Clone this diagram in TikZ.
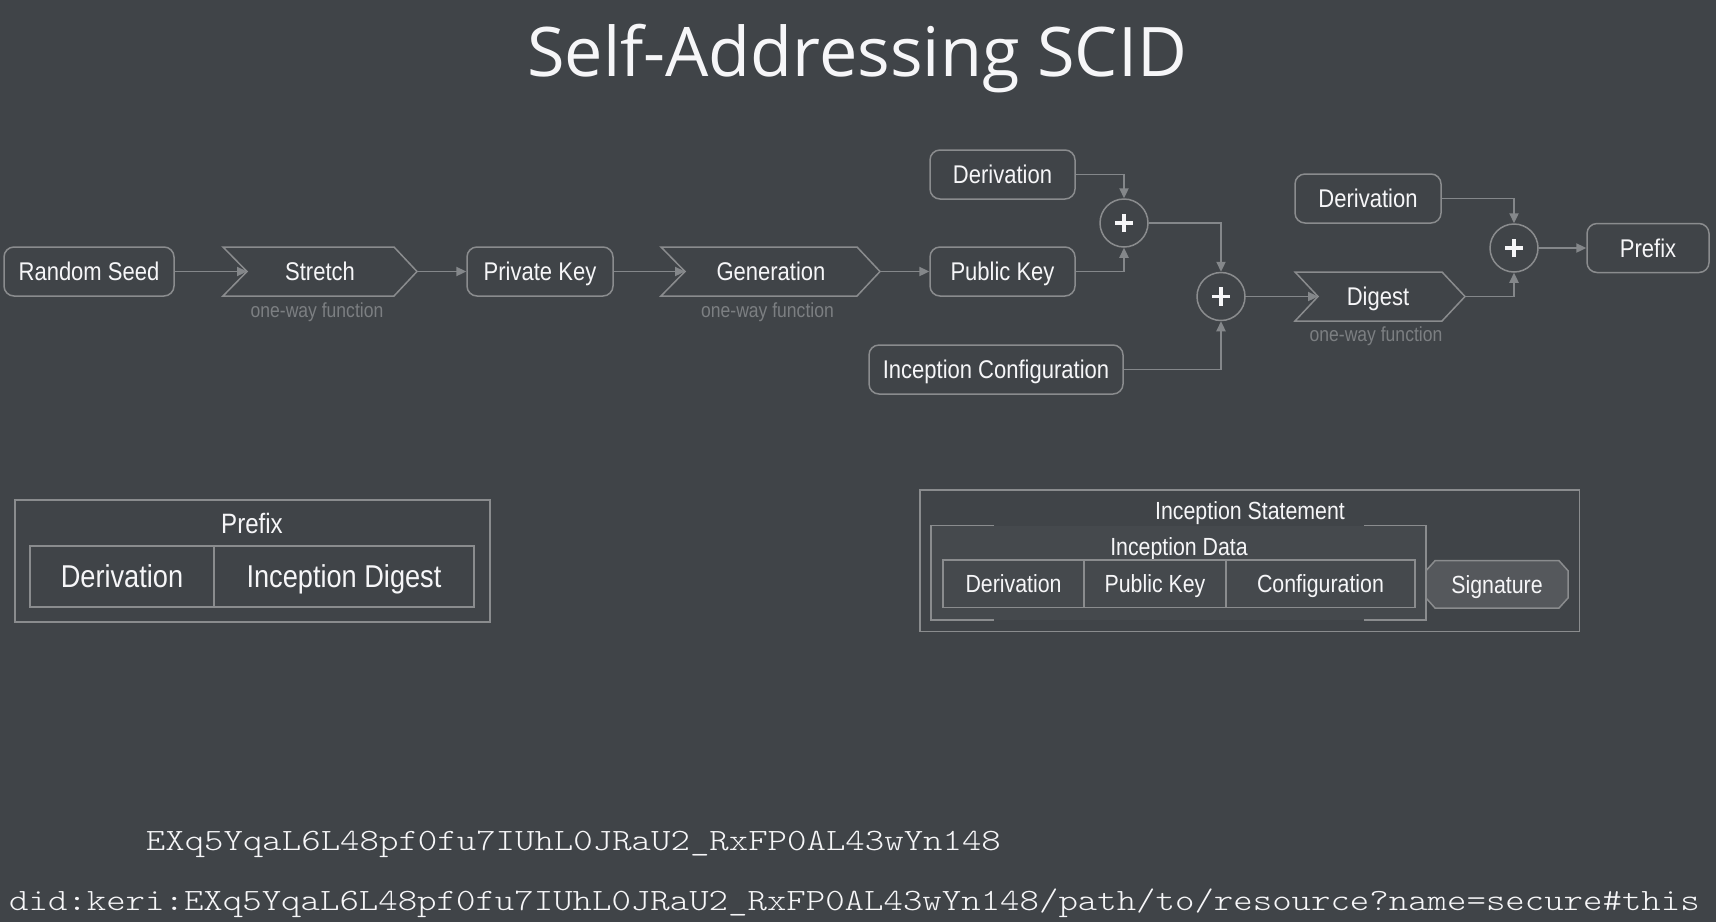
\documentclass[tikz,border=0pt]{standalone}
\usepackage{fontspec}
\usetikzlibrary{arrows.meta}
\newfontfamily\labfont[FakeStretch=0.86]{Liberation Sans}
\newfontfamily\titlefont{Open Sans}
\newfontfamily\codefont[FakeStretch=1.194]{Latin Modern Mono Light}
\definecolor{bg}{HTML}{404448}
\definecolor{linegray}{HTML}{8A8C8E}
\definecolor{arrgray}{HTML}{84878A}
\definecolor{txt}{HTML}{F6F6F8}
\definecolor{dimtxt}{HTML}{7C7F82}
\definecolor{sigfill}{HTML}{55585C}
\definecolor{innerfill}{HTML}{45494D}
\tikzset{
  box/.style={draw=linegray, line width=0.75pt, rounded corners=5pt, fill=bg, text=txt,
    font=\labfont\fontsize{12.8pt}{14pt}\selectfont, minimum height=24.5pt,
    inner sep=0pt, text height=9.2pt, text depth=0pt},
  lab/.style={text=txt, font=\labfont\fontsize{12.8pt}{14pt}\selectfont, inner sep=0pt,
    text height=9.2pt, text depth=0pt},
  fn/.style={text=dimtxt, font=\labfont\fontsize{10.2pt}{12pt}\selectfont, inner sep=0pt},
  chev/.style={draw=linegray, line width=0.75pt, fill=bg},
  plus/.style={circle, draw=linegray, line width=0.75pt, fill=bg, minimum size=24pt, inner sep=0pt,
    path picture={\draw[txt, line width=1.6pt]
      ([xshift=-4.6pt]path picture bounding box.center) -- ([xshift=4.6pt]path picture bounding box.center)
      ([yshift=-4.6pt]path picture bounding box.center) -- ([yshift=4.6pt]path picture bounding box.center);}},
  arr/.style={draw=arrgray, line width=0.75pt, -{Triangle[length=5pt,width=4.6pt]}},
  frame/.style={draw=linegray, line width=0.75pt},
  bigcell/.style={draw=linegray, line width=0.75pt, text=txt, font=\labfont\fontsize{15.8pt}{17pt}\selectfont,
    minimum height=30.5pt, inner sep=0pt, text height=11.3pt, text depth=0pt},
  smallcell/.style={draw=linegray, line width=0.75pt, text=txt, font=\labfont\fontsize{12.4pt}{14pt}\selectfont,
    minimum height=23.85pt, inner sep=0pt, text height=8.9pt, text depth=0pt},
  code/.style={text=txt, font=\codefont\fontsize{15.5pt}{18pt}\selectfont, inner sep=0pt, anchor=base west},
}
\begin{document}
\begin{tikzpicture}[x=0.5pt,y=-0.5pt]
\fill[bg] (0,0) rectangle (1716,922);
\useasboundingbox (0,0) rectangle (1716,922);

% title
\node[font=\titlefont\fontsize{34.2pt}{40pt}\selectfont, text=txt, anchor=base, inner sep=0pt] (title) at (857,76) {Self-Addressing SCID};

% top flow
\node[box, minimum width=85pt] (seed) at (89,271.5) {Random Seed};

\draw[chev] (223,247) -- (394,247) -- (417,271.5) -- (394,296) -- (223,296) -- (247,271.5) -- cycle;
\node[lab] (stretch) at (320,271.5) {Stretch};
\coordinate (stretchIn) at (247,271.5);
\coordinate (stretchOut) at (417,271.5);
\node[fn] (fn1) at (317,312) {one-way function};

\node[box, minimum width=73pt] (privkey) at (540,271.5) {Private Key};

\draw[chev] (661,247) -- (857,247) -- (880,271.5) -- (857,296) -- (661,296) -- (685,271.5) -- cycle;
\node[lab] (generation) at (771,271.5) {Generation};
\coordinate (genIn) at (685,271.5);
\coordinate (genOut) at (880,271.5);
\node[fn] (fn2) at (767.5,312) {one-way function};

\node[box, minimum width=72.5pt] (pubkey) at (1002.5,271.5) {Public Key};
\node[box, minimum width=72.5pt] (deriv1) at (1002.5,174.5) {Derivation};
\node[box, minimum width=127pt] (config) at (996,369.5) {Inception Configuration};

\node[plus] (plus1) at (1124,223) {};
\node[plus] (plus2) at (1221,296.5) {};

\draw[chev] (1295,272) -- (1442,272) -- (1465,296.5) -- (1442,321) -- (1295,321) -- (1318,296.5) -- cycle;
\node[lab] (digest) at (1378,296.5) {Digest};
\coordinate (digIn) at (1318,296.5);
\coordinate (digOut) at (1465,296.5);
\node[fn] (fn3) at (1376,336) {one-way function};

\node[box, minimum width=73pt] (deriv2) at (1368,198.5) {Derivation};
\node[plus] (plus3) at (1514,248) {};
\node[box, minimum width=61pt] (prefix) at (1648,248) {Prefix};

% connectors
\draw[arr] (seed.east) -- (stretchIn);
\draw[arr] (stretchOut) -- (privkey.west);
\draw[arr] (privkey.east) -- (genIn);
\draw[arr] (genOut) -- (pubkey.west);
\draw[arr] (deriv1.east) -| (plus1.north);
\draw[arr] (pubkey.east) -| (plus1.south);
\draw[arr] (plus1.east) -| (plus2.north);
\draw[arr] (config.east) -| (plus2.south);
\draw[arr] (plus2.east) -- (digIn);
\draw[arr] (deriv2.east) -| (plus3.north);
\draw[arr] (digOut) -| (plus3.south);
\draw[arr] (plus3.east) -- (prefix.west);

% prefix structure
\draw[frame] (15,500) rectangle (490,622);
\node[lab, font=\labfont\fontsize{14pt}{16pt}\selectfont, text height=10pt] (ptitle) at (252,523) {Prefix};
\node[bigcell, minimum width=92pt] (pderiv) at (122,576.5) {Derivation};
\node[bigcell, minimum width=130pt] (pdigest) at (344,576.5) {Inception Digest};

% inception statement structure
\draw[frame] (920,490) rectangle (1579.5,631.7);
\node[lab, font=\labfont\fontsize{12.4pt}{14pt}\selectfont, text height=8.9pt] (istmt) at (1250,511) {Inception Statement};
\fill[innerfill] (931,525.7) rectangle (1426,620);
\draw[frame] (994,525.7) -- (931,525.7) -- (931,620) -- (994,620);
\draw[frame] (1364,525.7) -- (1426,525.7) -- (1426,620) -- (1364,620);
\node[lab, font=\labfont\fontsize{12.4pt}{14pt}\selectfont, text height=8.9pt] (idata) at (1179,547) {Inception Data};
\node[smallcell, minimum width=70.5pt] (sderiv) at (1013.5,583.85) {Derivation};
\node[smallcell, minimum width=71pt] (spub) at (1155,583.85) {Public Key};
\node[smallcell, minimum width=94.5pt] (sconf) at (1320.5,583.85) {Configuration};
\draw[draw=linegray, line width=0.75pt, fill=sigfill] (1426,570.7) -- (1435,560.7) -- (1559,560.7) -- (1568,570.7) -- (1568,598) -- (1559,608) -- (1435,608) -- (1426,598) -- cycle;
\node[lab, font=\labfont\fontsize{12.4pt}{14pt}\selectfont, text height=8.9pt] (sig) at (1497,584.3) {Signature};

% identifiers
\node[code] (scid) at (145.5,850) {EXq5YqaL6L48pf0fu7IUhL0JRaU2\_RxFP0AL43wYn148};
\node[code] (did) at (8.75,910) {did:keri:EXq5YqaL6L48pf0fu7IUhL0JRaU2\_RxFP0AL43wYn148/path/to/resource?name=secure\#this};
\end{tikzpicture}
\end{document}
